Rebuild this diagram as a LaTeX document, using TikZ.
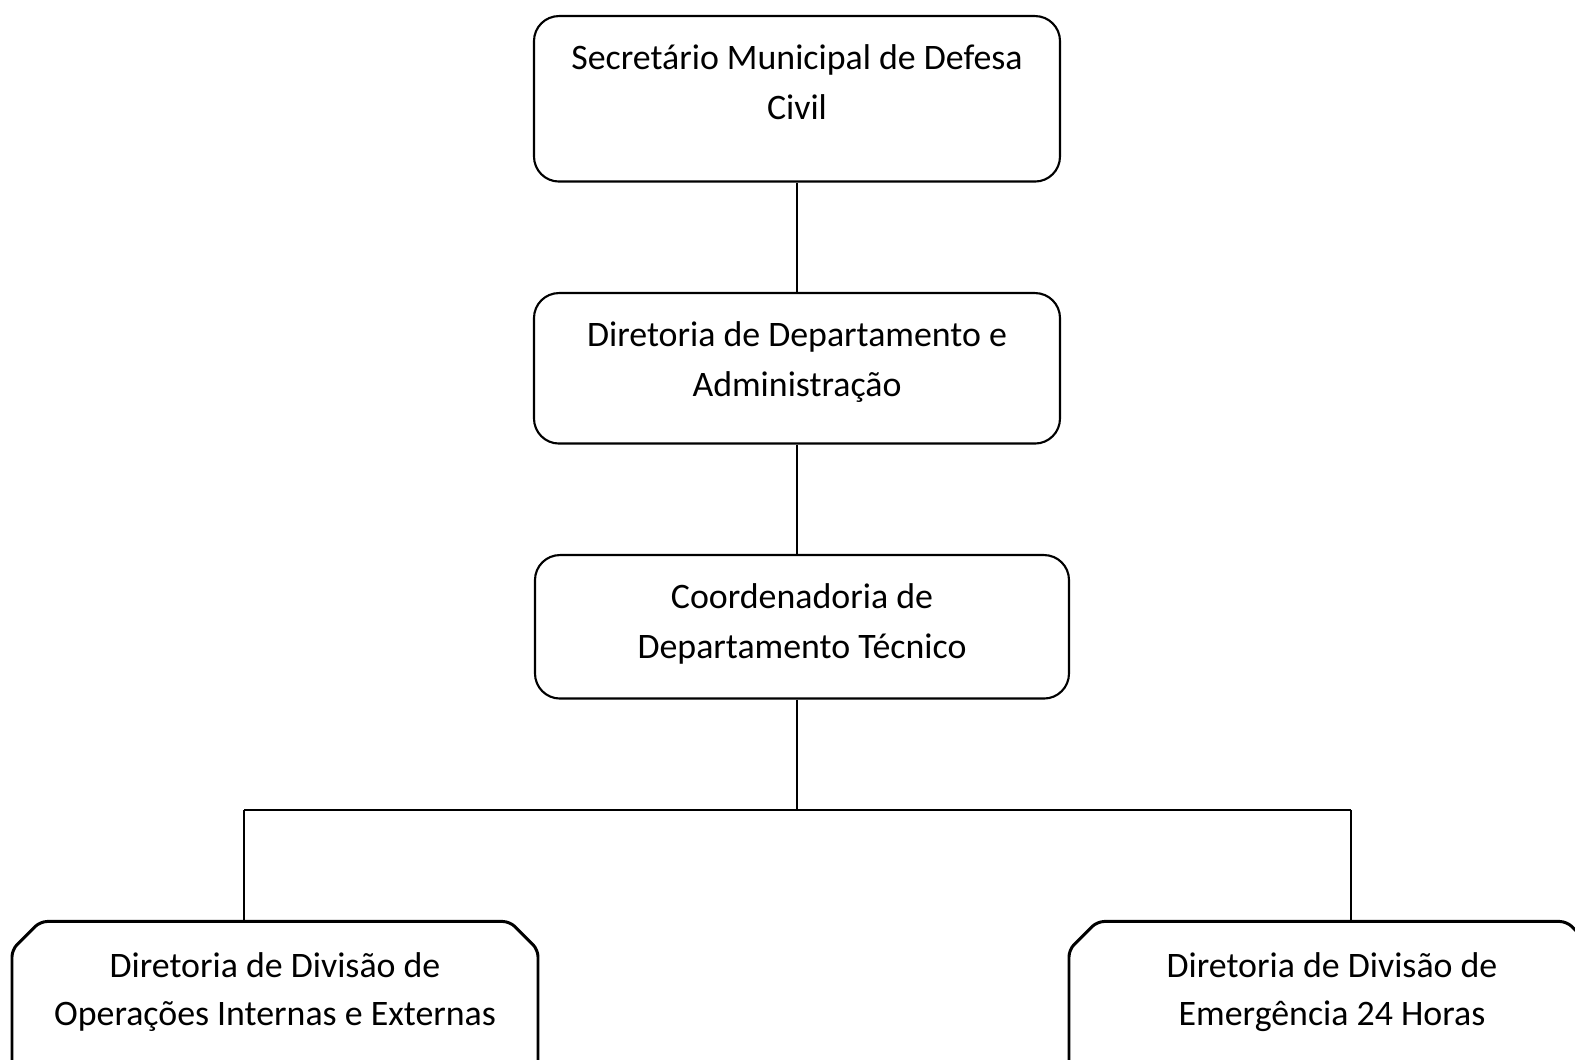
\documentclass[tikz,border=0pt]{standalone}
\usepackage{fontspec}
\setmainfont{Carlito}
\usetikzlibrary{shapes.misc}
\tikzset{%
	box/.style    = {draw, rectangle, rounded corners=0.25cm, line width=0.6pt, inner sep=0pt, align=center, anchor=north, minimum width=5.26cm, text height=1.035cm, font=\fontsize{10.2}{14.2}\selectfont}, % upper boxes
	divbox/.style = {draw, chamfered rectangle, chamfered rectangle xsep=0.17cm, rounded corners=2pt, line width=0.85pt, inner sep=0pt, align=center, anchor=north, minimum width=5.26cm, text height=0.93cm, text depth=1cm, font=\fontsize{10.2}{13.8}\selectfont}, % division boxes
	line/.style   = {draw, line width=0.4pt}, % connector
}
\begin{document}
\begin{tikzpicture}
		\clip (0,0) rectangle (15.75,-10.6);
		\node[box, text depth=0.62cm] (sec) at (7.97,-0.15) {Secretário Municipal de Defesa\\Civil};
		\node[box, text depth=0.47cm] (dir) at (7.97,-2.92) {Diretoria de Departamento e\\Administração};
		\node[box, text depth=0.40cm, minimum width=5.34cm] (tec) at (8.02,-5.54) {Coordenadoria de\\Departamento Técnico};
		\node[divbox] (opi) at (2.75,-9.20) {Diretoria de Divisão de\\Operações Internas e Externas};
		\node[divbox] (emg) at (13.32,-9.20) {Diretoria de Divisão de\\Emergência 24 Horas};
		\coordinate (hub) at (7.97,-8.10);
		\coordinate (busL) at (2.44,-8.10);
		\coordinate (busR) at (13.51,-8.10);
		\draw[line] (sec) -- (dir);
		\draw[line] (dir) -- (dir |- tec.north);
		\draw[line] (hub |- tec.south) -- (hub);
		\draw[line] (busL) -- (busR);
		\draw[line] (busL) -- (busL |- opi.north);
		\draw[line] (busR) -- (busR |- emg.north);
		
		\end{tikzpicture}
\end{document}
